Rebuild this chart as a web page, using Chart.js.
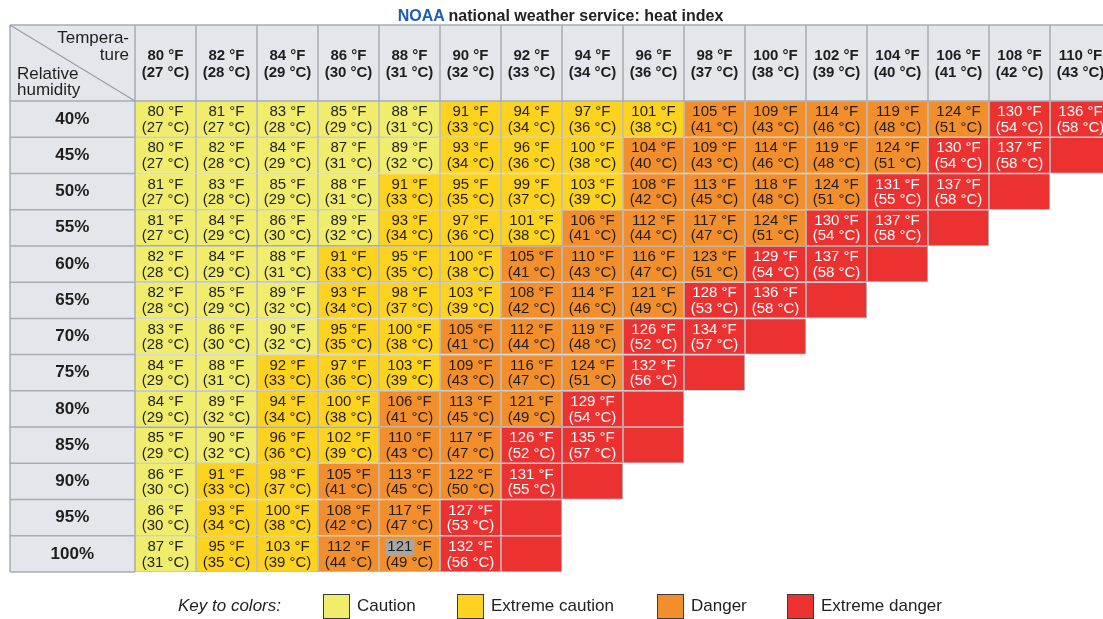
<!DOCTYPE html>
<html>
<head>
<meta charset="utf-8">
<script src="https://cdn.jsdelivr.net/npm/chart.js@4.4.1/dist/chart.umd.min.js"></script>
<style>
  html, body { margin:0; padding:0; background:#fff; overflow:hidden; width:1103px; height:619px; }
  #wrap { position:absolute; left:0; top:0; width:1120px; height:619px; }
  #c { display:block; }
  #title { position:absolute; top:7px; left:0; width:1121px; text-align:center;
           font:bold 16px "Liberation Sans", Arial, Helvetica, sans-serif; color:#222; white-space:nowrap; }
  #title .noaa { color:#1f5cb8; }
  .lg { position:absolute; font:17px "Liberation Sans", Arial, Helvetica, sans-serif; color:#222; line-height:20px; white-space:nowrap; }
  .lg.key { font-style:italic; }
  .box { position:absolute; width:25px; height:23px; border:1.5px solid #3a3a3a; }
</style>
</head>
<body>
<div id="wrap"><canvas id="c" width="1120" height="619"></canvas></div>
<div id="title"><span class="noaa">NOAA</span> national weather service: heat index</div>
<div id="legend"></div>
<script>
// ---------------- data ----------------
const temperaturesF = [80, 82, 84, 86, 88, 90, 92, 94, 96, 98, 100, 102, 104, 106, 108, 110];
const temperaturesC = [27, 28, 29, 30, 31, 32, 33, 34, 36, 37, 38, 39, 40, 41, 42, 43];
const humidityLabels = ['40%', '45%', '50%', '55%', '60%', '65%', '70%', '75%', '80%', '85%', '90%', '95%', '100%'];

const heatIndexF = [
  [80, 81, 83, 85, 88, 91, 94, 97, 101, 105, 109, 114, 119, 124, 130, 136],
  [80, 82, 84, 87, 89, 93, 96, 100, 104, 109, 114, 119, 124, 130, 137],
  [81, 83, 85, 88, 91, 95, 99, 103, 108, 113, 118, 124, 131, 137],
  [81, 84, 86, 89, 93, 97, 101, 106, 112, 117, 124, 130, 137],
  [82, 84, 88, 91, 95, 100, 105, 110, 116, 123, 129, 137],
  [82, 85, 89, 93, 98, 103, 108, 114, 121, 128, 136],
  [83, 86, 90, 95, 100, 105, 112, 119, 126, 134],
  [84, 88, 92, 97, 103, 109, 116, 124, 132],
  [84, 89, 94, 100, 106, 113, 121, 129],
  [85, 90, 96, 102, 110, 117, 126, 135],
  [86, 91, 98, 105, 113, 122, 131],
  [86, 93, 100, 108, 117, 127],
  [87, 95, 103, 112, 121, 132]
];
const heatIndexC = [
  [27, 27, 28, 29, 31, 33, 34, 36, 38, 41, 43, 46, 48, 51, 54, 58],
  [27, 28, 29, 31, 32, 34, 36, 38, 40, 43, 46, 48, 51, 54, 58],
  [27, 28, 29, 31, 33, 35, 37, 39, 42, 45, 48, 51, 55, 58],
  [27, 29, 30, 32, 34, 36, 38, 41, 44, 47, 51, 54, 58],
  [28, 29, 31, 33, 35, 38, 41, 43, 47, 51, 54, 58],
  [28, 29, 32, 34, 37, 39, 42, 46, 49, 53, 58],
  [28, 30, 32, 35, 38, 41, 44, 48, 52, 57],
  [29, 31, 33, 36, 39, 43, 47, 51, 56],
  [29, 32, 34, 38, 41, 45, 49, 54],
  [29, 32, 36, 39, 43, 47, 52, 57],
  [30, 33, 37, 41, 45, 50, 55],
  [30, 34, 38, 42, 47, 53],
  [31, 35, 39, 44, 49, 56]
];
// empty "extreme danger" cells after the last value of each row
const extraDangerCells = [0, 1, 1, 1, 1, 1, 1, 1, 1, 1, 1, 1, 1];
// cell with grey highlight behind its number [row, column]
const highlightedCell = [12, 4];

const categoryNames = ['Caution', 'Extreme caution', 'Danger', 'Extreme danger'];
const categoryColors = ['#f0ec6c', '#fdd31f', '#f28e2b', '#ec3131'];
const categoryUpperLimits = [90, 103, 124];

// ---------------- styles ----------------
const FONT = '"Liberation Sans", Arial, Helvetica, sans-serif';
const GRID = '#a9adb1';
const HEADER_BG = '#e3e6ea';
const TEXT = '#1e1e1e';

function categoryOf(f) {
  for (let i = 0; i < categoryUpperLimits.length; i++) if (f <= categoryUpperLimits[i]) return i;
  return 3;
}

const datasets = humidityLabels.map((h, r) => {
  const n = heatIndexF[r].length;
  const m = n + extraDangerCells[r];
  return {
    label: h,
    data: temperaturesF.map((t, c) => (c < m ? [r, r + 1] : null)),
    backgroundColor: temperaturesF.map((t, c) => (c < n ? categoryColors[categoryOf(heatIndexF[r][c])] : categoryColors[3])),
    borderColor: GRID,
    borderWidth: 0.8,
    borderSkipped: false,
    inflateAmount: 0,
    grouped: false,
    barPercentage: 1,
    categoryPercentage: 1
  };
});

// background: header row, label column, corner cell
const tableFrame = {
  id: 'tableFrame',
  beforeDraw(chart) {
    const { ctx, chartArea: a, scales } = chart;
    const x = scales.x, y = scales.y;
    const top = a.top - 76, left = a.left - 125;
    ctx.save();
    ctx.fillStyle = HEADER_BG;
    ctx.fillRect(left, top, a.right - left, a.top - top);
    ctx.fillRect(left, a.top, a.left - left, a.bottom - a.top);
    ctx.strokeStyle = GRID;
    ctx.lineWidth = 1.5;
    ctx.beginPath();
    ctx.moveTo(left, top); ctx.lineTo(a.right, top);
    ctx.moveTo(left, a.top); ctx.lineTo(a.right, a.top);
    ctx.moveTo(left, top); ctx.lineTo(left, a.bottom);
    ctx.moveTo(a.left, top); ctx.lineTo(a.left, a.bottom);
    ctx.moveTo(left, a.bottom); ctx.lineTo(a.left, a.bottom);
    for (let i = 1; i < humidityLabels.length; i++) {
      const py = y.getPixelForValue(i);
      ctx.moveTo(left, py); ctx.lineTo(a.left, py);
    }
    const half = (x.getPixelForValue(1) - x.getPixelForValue(0)) / 2;
    for (let c = 0; c < temperaturesF.length; c++) {
      const px = x.getPixelForValue(c) + half;
      ctx.moveTo(px, top); ctx.lineTo(px, a.top);
    }
    ctx.stroke();
    // diagonal
    ctx.lineWidth = 1.2;
    ctx.strokeStyle = '#9a9ea3';
    ctx.beginPath();
    ctx.moveTo(left, top); ctx.lineTo(a.left, a.top);
    ctx.stroke();
    // corner text
    ctx.fillStyle = TEXT;
    ctx.font = '17px ' + FONT;
    ctx.textBaseline = 'middle';
    ctx.textAlign = 'right';
    ctx.fillText('Tempera-', a.left - 6, top + 13);
    ctx.fillText('ture', a.left - 6, top + 30);
    ctx.textAlign = 'left';
    ctx.fillText('Relative', left + 7, top + 49);
    ctx.fillText('humidity', left + 7, top + 65);
    ctx.restore();
  }
};

// text in each cell
const cellText = {
  id: 'cellText',
  afterDatasetsDraw(chart) {
    const ctx = chart.ctx;
    ctx.save();
    ctx.font = '15px ' + FONT;
    ctx.textBaseline = 'middle';
    ctx.textAlign = 'center';
    heatIndexF.forEach((row, r) => {
      const meta = chart.getDatasetMeta(r);
      row.forEach((f, c) => {
        const el = meta.data[c];
        const cx = el.x, cy = (el.y + el.base) / 2;
        const l1 = f + ' °F';
        const l2 = '(' + heatIndexC[r][c] + ' °C)';
        if (r === highlightedCell[0] && c === highlightedCell[1]) {
          const w = ctx.measureText(l1).width;
          const wn = ctx.measureText(String(f)).width;
          ctx.fillStyle = '#a6a6a2';
          ctx.fillRect(cx - w / 2 - 2, cy - 15, wn + 4, 17);
        }
        ctx.fillStyle = categoryOf(f) === 3 ? '#ffffff' : TEXT;
        ctx.fillText(l1, cx, cy - 7);
        ctx.fillText(l2, cx, cy + 8.5);
      });
    });
    ctx.restore();
  }
};

new Chart(document.getElementById('c'), {
  type: 'bar',
  data: { labels: temperaturesF.map(String), datasets },
  options: {
    responsive: false,
    maintainAspectRatio: false,
    devicePixelRatio: 1,
    animation: false,
    events: [],
    layout: { padding: { left: 10, top: 25, right: 9, bottom: 47 } },
    plugins: { legend: { display: false }, tooltip: { enabled: false }, title: { display: false } },
    scales: {
      x: {
        type: 'category',
        position: 'top',
        offset: true,
        grid: { display: false, drawTicks: false },
        border: { display: false },
        ticks: {
          autoSkip: false,
          maxRotation: 0,
          padding: 20,
          color: TEXT,
          font: { family: FONT, size: 15, weight: 'bold', lineHeight: 1.1 },
          callback: (v, i) => [temperaturesF[i] + ' °F', '(' + temperaturesC[i] + ' °C)']
        },
        afterFit: (s) => { s.height = 76; s.paddingLeft = 0; s.paddingRight = 0; }
      },
      y: {
        type: 'linear',
        reverse: true,
        min: 0,
        max: humidityLabels.length,
        grid: { display: false, drawTicks: false },
        border: { display: false },
        afterBuildTicks: (s) => { s.ticks = humidityLabels.map((_, i) => ({ value: i + 0.5 })); },
        ticks: {
          autoSkip: false,
          crossAlign: 'center',
          padding: 41,
          color: TEXT,
          font: { family: FONT, size: 17, weight: 'bold' },
          callback: (v) => humidityLabels[Math.floor(v)]
        },
        afterFit: (s) => { s.width = 125; s.paddingTop = 0; s.paddingBottom = 0; }
      }
    }
  },
  plugins: [tableFrame, cellText]
});

// legend (key to colors)
const legend = document.getElementById('legend');
const keyText = document.createElement('div');
keyText.className = 'lg key';
keyText.style.left = '178px'; keyText.style.top = '596px';
keyText.textContent = 'Key to colors:';
legend.appendChild(keyText);
const boxLeft = [323, 457, 657, 787];
categoryNames.forEach((name, i) => {
  const b = document.createElement('div');
  b.className = 'box';
  b.style.left = boxLeft[i] + 'px'; b.style.top = '594px';
  b.style.background = categoryColors[i];
  legend.appendChild(b);
  const t = document.createElement('div');
  t.className = 'lg';
  t.style.left = (boxLeft[i] + 34) + 'px'; t.style.top = '596px';
  t.textContent = name;
  legend.appendChild(t);
});
</script>
</body>
</html>
